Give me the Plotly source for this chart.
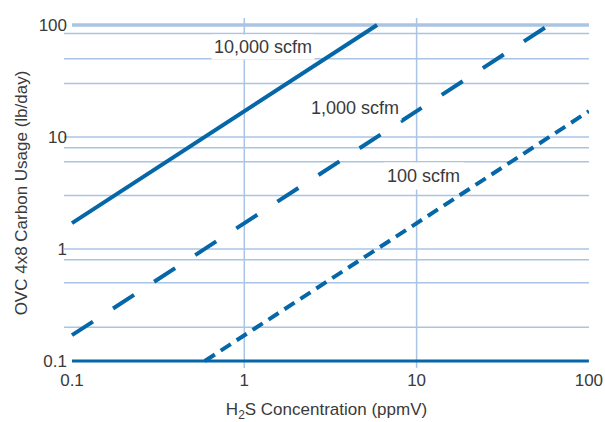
import plotly.graph_objects as go
import math

# ---- data ----
tick_vals = [0.1, 1, 10, 100]
tick_text = ["0.1", "1", "10", "100"]
h_grid = [0.2, 0.5, 0.8, 1, 3, 6, 8, 10, 30, 50, 84]
v_grid = [1, 10]

flow_names = ["10,000 scfm", "1,000 scfm", "100 scfm"]
x_10000 = [0.1, 5.9]
y_10000 = [1.7, 100]
x_1000 = [0.1, 58.8]
y_1000 = [0.17, 100]
x_100 = [0.59, 100]
y_100 = [0.1, 17]

frame_x = [0.1, 100]
top_y = [100, 100]
bottom_y = [0.1, 0.1]

label_x = [1.284, 4.37, 10.9]
label_y = [63, 18.3, 4.49]
label_pad = [2, 2, 3]

BLUE = "#0567a7"
GRID = "#aac4e4"
TEXT = "#3a3a3a"
FONT = "Liberation Sans, Arial, sans-serif"

fig = go.Figure()

# frame lines
fig.add_trace(go.Scatter(x=frame_x, y=top_y, mode="lines",
                         line=dict(color=GRID, width=3.5), hoverinfo="skip", showlegend=False))
fig.add_trace(go.Scatter(x=frame_x, y=bottom_y, mode="lines",
                         line=dict(color=BLUE, width=3), hoverinfo="skip", showlegend=False))

fig.add_trace(go.Scatter(x=x_10000, y=y_10000, mode="lines", name=flow_names[0],
                         line=dict(color=BLUE, width=4), showlegend=False))
fig.add_trace(go.Scatter(x=x_1000, y=y_1000, mode="lines", name=flow_names[1],
                         line=dict(color=BLUE, width=4, dash="25px,24px"), showlegend=False))
fig.add_trace(go.Scatter(x=x_100, y=y_100, mode="lines", name=flow_names[2],
                         line=dict(color=BLUE, width=4, dash="12px,7px"), showlegend=False))

shapes = []
for v in h_grid:
    shapes.append(dict(type="line", xref="paper", x0=0, x1=1, yref="y", y0=v, y1=v,
                       line=dict(color=GRID, width=1.5), layer="below"))
for v in v_grid:
    shapes.append(dict(type="line", yref="paper", y0=0, y1=1, xref="x", x0=v, x1=v,
                       line=dict(color=GRID, width=1.5), layer="below"))

annotations = []
for name, lx, ly, pad in zip(flow_names, label_x, label_y, label_pad):
    annotations.append(dict(x=math.log10(lx), y=math.log10(ly), xref="x", yref="y",
                            text=name, showarrow=False, bgcolor="white", borderpad=pad,
                            font=dict(family=FONT, size=18, color=TEXT)))

fig.update_layout(
    width=605, height=422,
    margin=dict(l=64, r=16, t=18, b=54, autoexpand=False),
    plot_bgcolor="white", paper_bgcolor="white",
    shapes=shapes, annotations=annotations,
    font=dict(family=FONT, color=TEXT),
    xaxis=dict(type="log", range=[-1.0464, 2.0006], tickvals=tick_vals, ticktext=tick_text,
               showgrid=False, zeroline=False, showline=False, ticks="", automargin=False,
               tickfont=dict(size=17, color=TEXT),
               title=dict(text="H<sub>2</sub>S Concentration (ppmV)", font=dict(size=17, color=TEXT),
                          standoff=14)),
    yaxis=dict(type="log", range=[-1.0625, 2.0625], tickvals=tick_vals, ticktext=tick_text,
               showgrid=False, zeroline=False, showline=False, ticks="", automargin=False,
               ticklabelstandoff=-4,
               tickfont=dict(size=17, color=TEXT),
               title=dict(text="OVC 4x8 Carbon Usage (lb/day)", font=dict(size=17, color=TEXT),
                          standoff=6)),
)

fig.write_html("out.html", config={"displayModeBar": False},
               post_script="document.body.style.margin='0';document.body.style.overflow='hidden';")
